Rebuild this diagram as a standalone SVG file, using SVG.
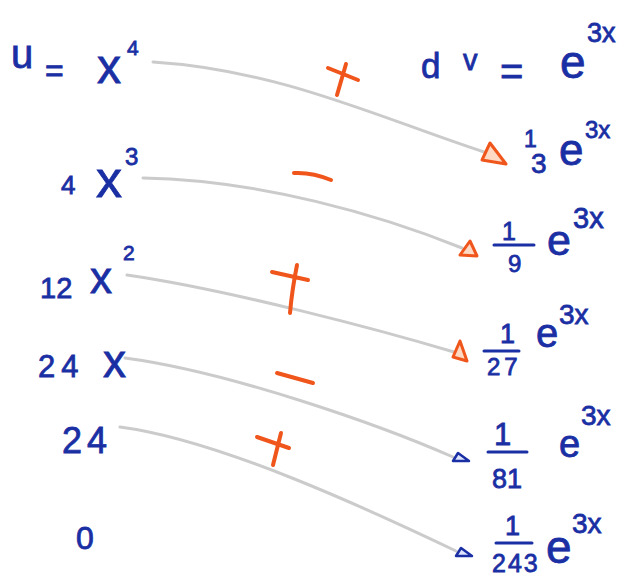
<svg xmlns="http://www.w3.org/2000/svg" width="621" height="577" viewBox="0 0 621 577">
<style>
  text { font-family: "Liberation Sans", "DejaVu Sans", sans-serif; fill: #1a2fa3; stroke: #1a2fa3; stroke-width: 0.8; }
  .bar { stroke: #1a2fa3; stroke-width: 3; stroke-linecap: round; }
  .conn { fill: none; stroke: #cbcbcb; stroke-width: 3; stroke-linecap: round; }
  .sign { fill: none; stroke: #f0561c; stroke-width: 4; stroke-linecap: round; stroke-linejoin: round; }
  .headO { fill: #ffd9c4; stroke: #f0561c; stroke-width: 3; stroke-linejoin: round; }
  .headB { fill: #dfe4ff; stroke: #1a2fa3; stroke-width: 2.5; stroke-linejoin: round; }
</style>
<rect width="621" height="577" fill="#ffffff"/>

<g id="connectors">
  <path class="conn" d="M153,62 C280,70 380,118 484,152"/>
  <path class="conn" d="M143,178 C260,180 380,215 462,248"/>
  <path class="conn" d="M127,275 C230,290 380,330 454,352"/>
  <path class="conn" d="M125,358 C230,372 380,425 453,457"/>
  <path class="conn" d="M120,427 C220,440 370,510 456,551"/>
  <polygon class="headO" points="490,143 482,160 506,164"/>
  <polygon class="headO" points="470,241 460,255 477,256"/>
  <polygon class="headO" points="460,341 453,357 467,361"/>
  <polygon class="headB" points="458,453 453,461 469,461"/>
  <polygon class="headB" points="461,548 456,556 472,556"/>
</g>

<g id="signs">
  <path class="sign" d="M328,68 L358,80 M346,64 L337,95"/>
  <path class="sign" d="M294,173 Q312,172 331,180"/>
  <path class="sign" d="M272,272 L308,280 M297,265 Q292,290 290,313"/>
  <path class="sign" d="M277,373 L313,383"/>
  <path class="sign" d="M257,437 L289,448 M281,433 L273,465"/>
</g>

<g id="u-row0">
  <text x="11" y="68" font-size="40">u</text>
  <text x="45" y="81" font-size="32">=</text>
  <text x="97" y="83" font-size="48">x</text>
  <text x="127" y="55" font-size="21">4</text>
</g>
<g id="u-row1">
  <text x="61" y="194" font-size="26">4</text>
  <text x="96" y="197" font-size="52">x</text>
  <text x="125" y="165" font-size="24">3</text>
</g>
<g id="u-row2">
  <text x="40" y="298" font-size="29">12</text>
  <text x="90" y="293" font-size="44">x</text>
  <text x="123" y="260" font-size="21">2</text>
</g>
<g id="u-row3">
  <text x="38" y="377" font-size="31" letter-spacing="6">24</text>
  <text x="103" y="377" font-size="46">x</text>
</g>
<g id="u-row4">
  <text x="62" y="453" font-size="36" letter-spacing="5">24</text>
</g>
<g id="u-row5">
  <text x="76" y="549" font-size="32">0</text>
</g>

<g id="dv-row0">
  <text x="421" y="78" font-size="35">d</text>
  <text x="463" y="70" font-size="29">v</text>
  <text x="500" y="85" font-size="40">=</text>
  <text x="560" y="78" font-size="46">e</text>
  <text x="587" y="42" font-size="27">3x</text>
</g>
<g id="dv-row1">
  <text x="524" y="147" font-size="23">1</text>
  <text x="531" y="173" font-size="28">3</text>
  <text x="559" y="165" font-size="44">e</text>
  <text x="585" y="138" font-size="24">3x</text>
</g>
<g id="dv-row2">
  <text x="502" y="240" font-size="25">1</text>
  <line class="bar" x1="494" y1="245" x2="534" y2="245"/>
  <text x="508" y="272" font-size="24">9</text>
  <text x="547" y="255" font-size="43">e</text>
  <text x="573" y="228" font-size="29">3x</text>
</g>
<g id="dv-row3">
  <text x="500" y="343" font-size="27">1</text>
  <line class="bar" x1="484" y1="351" x2="519" y2="351"/>
  <text x="487" y="375" font-size="24" letter-spacing="4">27</text>
  <text x="536" y="347" font-size="40">e</text>
  <text x="559" y="324" font-size="28">3x</text>
</g>
<g id="dv-row4">
  <text x="494" y="445" font-size="31">1</text>
  <line class="bar" x1="488" y1="452" x2="527" y2="452"/>
  <text x="492" y="488" font-size="27">81</text>
  <text x="559" y="457" font-size="38">e</text>
  <text x="581" y="425" font-size="28">3x</text>
</g>
<g id="dv-row5">
  <text x="505" y="535" font-size="27">1</text>
  <line class="bar" x1="496" y1="543" x2="532" y2="543"/>
  <text x="492" y="572" font-size="25" letter-spacing="2">243</text>
  <text x="546" y="563" font-size="46">e</text>
  <text x="572" y="533" font-size="28">3x</text>
</g>
</svg>
